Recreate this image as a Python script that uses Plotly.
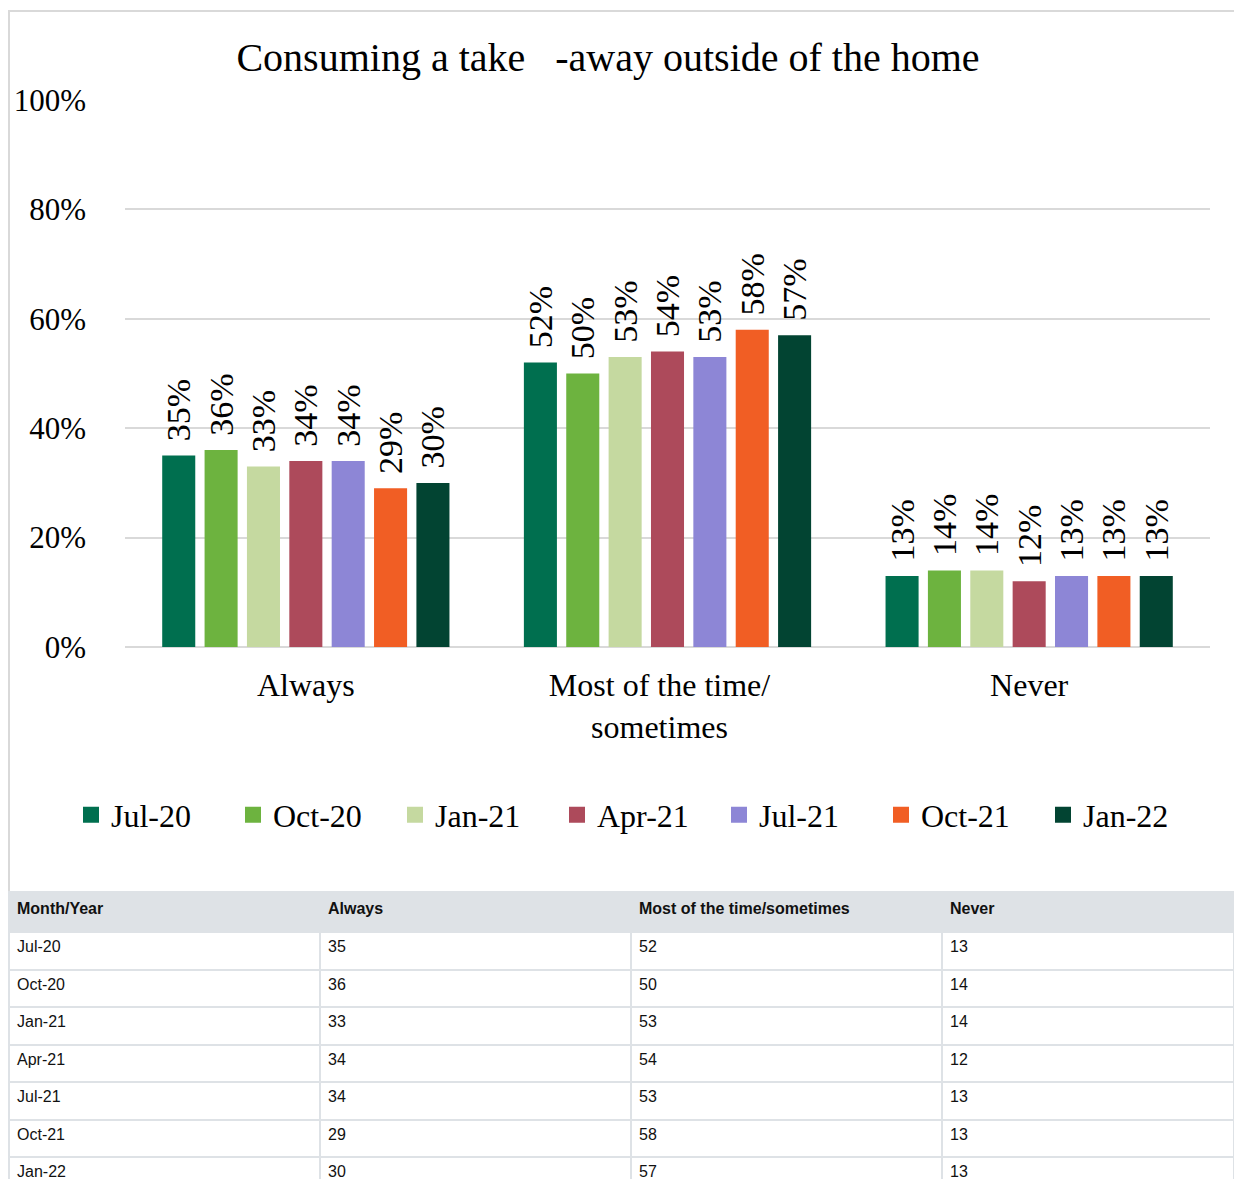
import plotly.graph_objects as go

# page offset of the figure inside the browser window, and figure size
OX, OY = 8, 8
FW, FH = 1226, 1171

categories = ["Always", "Most of the time/\u00a0\u00a0<br>sometimes\u00a0\u00a0", "Never"]
periods = ["Jul-20", "Oct-20", "Jan-21", "Apr-21", "Jul-21", "Oct-21", "Jan-22"]
always = [35, 36, 33, 34, 34, 29, 30]
most = [52, 50, 53, 54, 53, 58, 57]
never = [13, 14, 14, 12, 13, 13, 13]
colors = ["#006f4f", "#6db33f", "#c5d9a0", "#ad4a5b", "#8d86d6", "#f15e24", "#024432"]

table_header = ["Month/Year", "Always", "Most of the time/sometimes", "Never"]
yticks = [0, 20, 40, 60, 80, 100]

SERIF = "Liberation Serif, Times New Roman, serif"
SANS = "Liberation Sans, Arial, sans-serif"


def px_x(x):
    return (x - OX) / FW


def px_y(y):
    return (FH - (y - OY)) / FH


fig = go.Figure()

for i, p in enumerate(periods):
    vals = [always[i], most[i], never[i]]
    fig.add_trace(go.Bar(
        x=categories, y=vals, name=p,
        marker=dict(color=colors[i], line=dict(width=0)),
        text=[f"\u00a0\u200a{v}%" for v in vals],
        textposition="outside", textangle=-90,
        textfont=dict(family=SERIF, size=34, color="black"),
        constraintext="none", cliponaxis=False,
        showlegend=False, legendgroup=p,
    ))

# legend entries with larger square swatches
for i, p in enumerate(periods):
    fig.add_trace(go.Scatter(
        x=[None], y=[None], mode="markers", name=p, legendgroup=p,
        marker=dict(symbol="square", size=16, color=colors[i]),
        showlegend=True,
    ))

fig.add_trace(go.Table(
    domain=dict(x=[px_x(9), 1.0], y=[0.0, px_y(892)]),
    columnwidth=[311, 311, 311, 292],
    header=dict(
        values=[f"<b>{h}</b>" for h in table_header],
        fill_color="#dee2e6", line_color="#dee2e6", line_width=2,
        align="left", height=40,
        font=dict(family=SANS, size=16, color="#111111"),
    ),
    cells=dict(
        values=[periods, always, most, never],
        fill_color="white", line_color="#dee2e6", line_width=2,
        align="left", height=37.5,
        font=dict(family=SANS, size=16, color="#111111"),
    ),
))

fig.update_layout(
    width=FW, height=FH,
    margin=dict(l=0, r=0, t=0, b=0, autoexpand=False),
    paper_bgcolor="white", plot_bgcolor="white",
    barmode="group", bargap=0.18, bargroupgap=0.22,
    title=dict(
        text="Consuming a take\u00a0\u00a0\u00a0-away outside of the home",
        x=px_x(608), xanchor="center", y=px_y(57), yanchor="middle",
        font=dict(family=SERIF, size=40, color="black"),
    ),
    xaxis=dict(
        domain=[px_x(125), px_x(1210)], automargin=False,
        showline=False, ticks="", showgrid=False,
        tickfont=dict(family=SERIF, size=32, color="black"),
        ticklabelstandoff=16,
    ),
    yaxis=dict(
        domain=[px_y(647), px_y(100)], automargin=False,
        range=[0, 100], tickvals=yticks, ticktext=[f"{v}%" for v in yticks],
        showgrid=True, gridcolor="#d9d9d9", gridwidth=1.5,
        zeroline=True, zerolinecolor="#d9d9d9", zerolinewidth=1.5,
        showline=False, ticks="",
        tickfont=dict(family=SERIF, size=31, color="black"),
        ticklabelstandoff=38,
    ),
    legend=dict(
        orientation="h", x=px_x(638), xanchor="center",
        y=px_y(815), yanchor="middle",
        font=dict(family=SERIF, size=32, color="black"),
        itemwidth=30, entrywidth=117,
        bgcolor="rgba(0,0,0,0)",
    ),
    shapes=[
        dict(type="rect", xref="paper", yref="paper",
             x0=px_x(9), x1=1.2, y0=px_y(892), y1=px_y(11),
             line=dict(color="#d9d9d9", width=2), fillcolor="rgba(0,0,0,0)",
             layer="below"),
    ],
)

fig.write_html("out.html")
